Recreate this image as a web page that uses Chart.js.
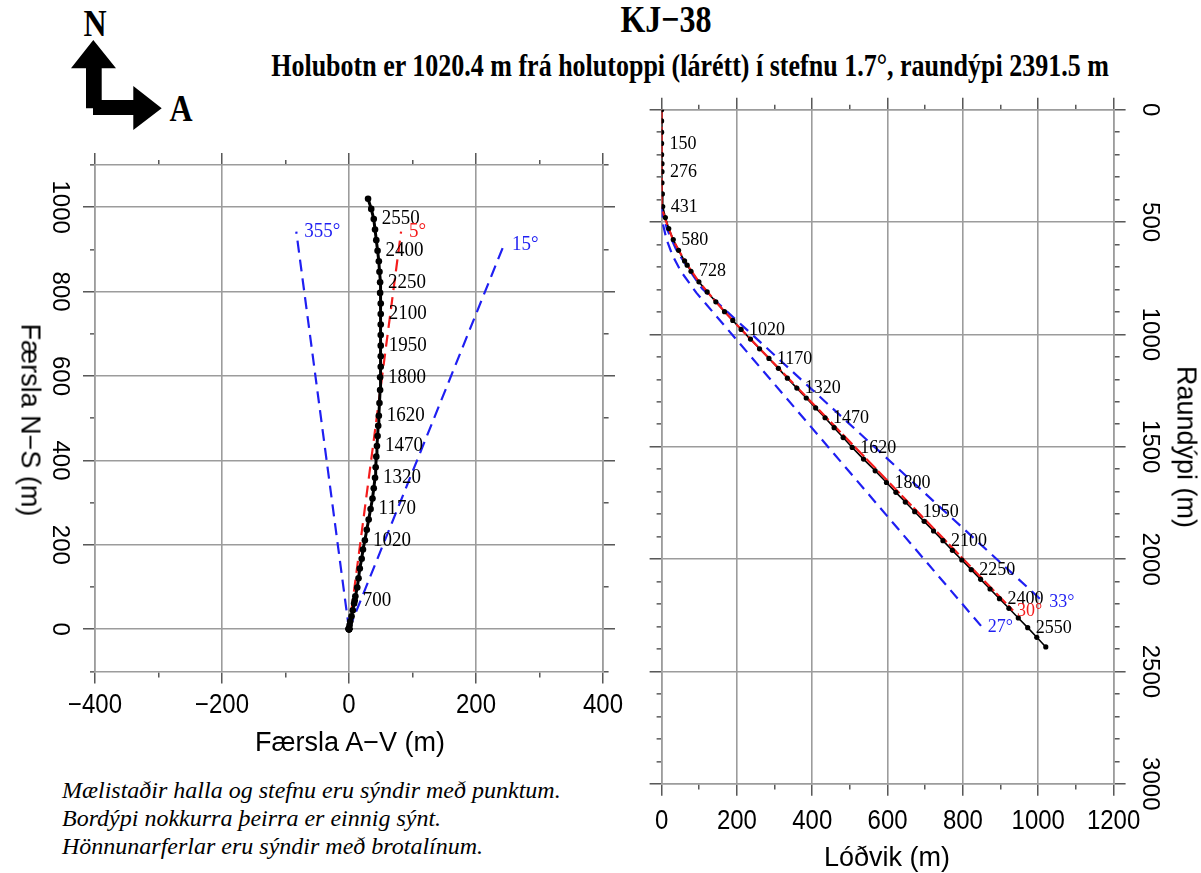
<!DOCTYPE html>
<html>
<head>
<meta charset="utf-8">
<script src="https://cdn.jsdelivr.net/npm/chart.js@4/dist/chart.umd.min.js"></script>
<style>
  html, body { margin: 0; padding: 0; background: #fff; }
  body { width: 1201px; height: 873px; position: relative; overflow: hidden; font-family: "Liberation Sans", Arial, sans-serif; color: #000; }
  .t { position: absolute; white-space: nowrap; line-height: 1; }
  .c { transform: translate(-50%, -50%); }
  .s { transform: translate(-50%, -50%) scaleY(1.18); }
  .r { transform: translate(-50%, -50%) rotate(90deg); }
  canvas { position: absolute; }
</style>
</head>
<body>
<svg style="position:absolute;left:0;top:0" width="200" height="140">
  <polygon fill="#000" points="93.3,40 116,68.3 101.7,68.3 101.7,100 133.3,100 133.3,86 161.7,108.3 133.3,130 133.3,115 93,115 93,108.3 86,108.3 86,68.3 71,68.3"/>
</svg>
<div class="t s" style="left:95px;top:24px;font:bold 32px 'Liberation Serif',serif">N</div>
<div class="t s" style="left:181px;top:109px;font:bold 32px 'Liberation Serif',serif">A</div>
<div class="t s" style="left:666px;top:20px;font:bold 32px 'Liberation Serif',serif">KJ−38</div>
<div class="t s" style="left:690px;top:67px;font:bold 26px 'Liberation Serif',serif">Holubotn er 1020.4 m frá holutoppi (lárétt) í stefnu 1.7°, raundýpi 2391.5 m</div>

<canvas id="plan" width="640" height="600" style="left:0;top:140px"></canvas>
<canvas id="section" width="581" height="813" style="left:620px;top:60px"></canvas>

<div class="t c" style="left:350px;top:742px;font-size:27px">Færsla A−V (m)</div>
<div class="t r" style="left:30px;top:420px;font-size:27px">Færsla N−S (m)</div>
<div class="t c" style="left:887px;top:857px;font-size:27px">Lóðvik (m)</div>
<div class="t r" style="left:1186px;top:447px;font-size:27px">Raundýpi (m)</div>

<div class="t" style="left:62px;top:776px;font:italic 24px/28px 'Liberation Serif',serif">Mælistaðir halla og stefnu eru sýndir með punktum.<br>Bordýpi nokkurra þeirra er einnig sýnt.<br>Hönnunarferlar eru sýndir með brotalínum.</div>

<script>
// ---------------- DATA ----------------
// Survey stations (measured depth, m)
const stationMD = [0,50,100,150,200,240,276,325,375,431,480,530,580,630,680,700,728,780,830,880,930,975,1020,1070,1120,1170,1220,1270,1320,1370,1420,1470,1520,1570,1620,1680,1740,1800,1850,1900,1950,2000,2050,2100,2150,2200,2250,2300,2350,2400,2450,2500,2550,2600,2650];
// Vertical section: true vertical depth (Raundýpi) and horizontal distance (Lóðvik)
const stationTVD = [0,50,100,150,200,240,276,325,375,431,480,529,578,626,673,692,719,766,811,855,899,938,978,1021,1064,1107,1151,1195,1239,1283,1327,1371,1415,1459,1503,1555,1607,1659,1703,1746,1789,1832,1875,1918,1961,2004,2047,2090,2133,2176,2219,2262,2305,2348,2391];
const stationDisp = [0,0,0,0,0,1,1,1,2,3,10,19,31,45,61,68,78,99,121,144,167,189,211,236,260,285,310,334,359,384,409,434,458,482,506,536,567,597,622,647,672,697,722,747,772,797,822,847,872,897,922,947,972,996,1020];
// Plan view: east (Færsla A-V) and north (Færsla N-S)
const stationEast = [0,0,0,0,0,0,0,0,0,0,1,2,4,6,8,9,10,13,15,17,20,22,25,28,31,34,37,39,41,42,43,44,45,46,47,48,49,49,50,50,50,50,50,50,50,49,49,48,47,45,43,41,39,35,30];
const stationNorth = [0,0,0,0,0,1,1,1,2,3,10,19,31,45,61,68,78,99,121,144,167,189,211,236,260,285,310,334,359,384,409,434,458,482,506,536,567,597,622,647,672,697,722,747,772,797,822,847,872,897,922,947,972,996,1020];

// Depth labels shown beside stations
const planLabelMD = [700,1020,1170,1320,1470,1620,1800,1950,2100,2250,2400,2550];
const sectionLabelMD = [150,276,431,580,728,1020,1170,1320,1470,1620,1800,1950,2100,2250,2400,2550];

// Plan-view design directions (from wellhead)
const planFanText = ['355°','5°','15°'];
const planFanEndEast = [-83, 82, 244];
const planFanEndNorth = [942, 942, 911];

// Vertical-section design curves
const designDisp = [0,0,8,30,61,99,144,189,236,933];
const designTVD  = [0,431,480,578,673,766,855,938,1021,2229];
const upperDisp = [0,14,38,70,108,1013];
const upperTVD  = [431,530,620,705,797,2190];
const lowerDisp = [0,3,13,29,51,92,850];
const lowerTVD  = [431,505,577,649,719,814,2301];
const designText = '30°', upperText = '33°', lowerText = '27°';

// Tick labels
const planXTicks = [-400,-200,0,200,400];
const planYTicks = [0,200,400,600,800,1000];
const sectionXTicks = [0,200,400,600,800,1000,1200];
const sectionYTicks = [0,500,1000,1500,2000,2500,3000];

// ---------------- STYLE / HELPERS ----------------
const GRID = '#9c9c9c', TICK = '#3c3c3c', BLUE = '#1f1ff2', RED = '#f41c1c';
const SANS_TICK = '24px "Liberation Sans", Arial, sans-serif';
const SERIF_PLAN = '19px "Liberation Serif", "Times New Roman", serif';
const SERIF_SEC = '18px "Liberation Serif", "Times New Roman", serif';

function fmt(v) { return v < 0 ? '\u2212' + Math.abs(v) : String(v); }
function pts(xs, ys) { return xs.map((v, i) => ({x: v, y: ys[i]})); }
function label(ctx, s, x, y, font, color, align, rot, sy) {
  ctx.save();
  ctx.font = font; ctx.fillStyle = color; ctx.textAlign = align; ctx.textBaseline = 'middle';
  ctx.translate(x, y);
  if (sy) ctx.scale(1, sy);
  if (rot) ctx.rotate(rot);
  ctx.fillText(s, 0, 0);
  ctx.restore();
}
function axis(pos, min, max, step, major, size, onArea, reverse) {
  const fromEdge = (pos === 'bottom' || pos === 'right');
  const isMajor = c => c.tick && (c.tick.value % major === 0);
  return {
    type: 'linear', position: pos, min: min, max: max, reverse: !!reverse,
    ticks: { display: false, stepSize: step },
    grid: {
      drawOnChartArea: onArea, drawTicks: true, tickLength: 12,
      color: c => isMajor(c) ? GRID : 'rgba(0,0,0,0)',
      lineWidth: 1.6, tickColor: TICK, tickWidth: 1.3,
      tickBorderDash: c => isMajor(c) ? [] : (fromEdge ? [5, 60] : [0, 7, 5, 60])
    },
    border: { display: true, color: GRID, width: 1.6 },
    afterFit: s => { if (s.isHorizontal()) s.height = size; else s.width = size; }
  };
}
const common = { responsive: false, animation: false, devicePixelRatio: 1, layout: { padding: 0 },
  plugins: { legend: { display: false }, tooltip: { enabled: false } } };

// ---------------- PLAN VIEW ----------------
const planText = {
  id: 'planText',
  afterDraw(chart) {
    const ctx = chart.ctx, x = chart.scales.x, y = chart.scales.y;
    planXTicks.forEach(v => label(ctx, fmt(v), x.getPixelForValue(v), 566, SANS_TICK, '#000', 'center', 0, 1.12));
    planYTicks.forEach(v => label(ctx, fmt(v), 60, y.getPixelForValue(v), SANS_TICK, '#000', 'center', Math.PI / 2));
    planLabelMD.forEach(md => {
      const i = stationMD.indexOf(md);
      label(ctx, String(md), x.getPixelForValue(stationEast[i]) + 8, y.getPixelForValue(stationNorth[i]), SERIF_PLAN, '#000', 'left', 0, 1.08);
    });
    planFanText.forEach((t, i) => label(ctx, t, x.getPixelForValue(planFanEndEast[i]) + 8,
      y.getPixelForValue(planFanEndNorth[i]), SERIF_PLAN, i === 1 ? RED : BLUE, 'left', 0, 1.08));
  }
};
const planDatasets = planFanText.map((t, i) => ({
  data: pts([0, planFanEndEast[i]], [0, planFanEndNorth[i]]),
  showLine: true, borderColor: i === 1 ? RED : BLUE, borderWidth: 2.2, borderDash: [12, 7],
  pointRadius: 0, order: 3
}));
planDatasets.push({
  data: pts(stationEast, stationNorth), showLine: true, borderColor: '#000', borderWidth: 3,
  pointRadius: 3.3, pointBackgroundColor: '#000', pointBorderWidth: 0, order: 1
});
new Chart(document.getElementById('plan'), {
  type: 'scatter',
  data: { datasets: planDatasets },
  options: Object.assign({}, common, {
    scales: {
      x: axis('bottom', -400, 400, 100, 200, 68.5, true),
      x2: axis('top', -400, 400, 100, 200, 25, false),
      y: axis('left', -100, 1100, 100, 200, 95, true),
      y2: axis('right', -100, 1100, 100, 200, 37, false)
    }
  }),
  plugins: [planText]
});

// ---------------- VERTICAL SECTION ----------------
const sectionText = {
  id: 'sectionText',
  afterDraw(chart) {
    const ctx = chart.ctx, x = chart.scales.x, y = chart.scales.y;
    sectionXTicks.forEach(v => label(ctx, fmt(v), x.getPixelForValue(v), 762, SANS_TICK, '#000', 'center', 0, 1.12));
    sectionYTicks.forEach(v => label(ctx, fmt(v), 530, y.getPixelForValue(v), SANS_TICK, '#000', 'center', Math.PI / 2));
    sectionLabelMD.forEach(md => {
      const i = stationMD.indexOf(md);
      label(ctx, String(md), x.getPixelForValue(stationDisp[i]) + 8, y.getPixelForValue(stationTVD[i]), SERIF_SEC, '#000', 'left', 0, 1.08);
    });
    const end = (xs, ys) => [x.getPixelForValue(xs[xs.length - 1]), y.getPixelForValue(ys[ys.length - 1])];
    let p = end(upperDisp, upperTVD); label(ctx, upperText, p[0] + 6, p[1], SERIF_SEC, BLUE, 'left', 0, 1.08);
    p = end(lowerDisp, lowerTVD); label(ctx, lowerText, p[0] + 6, p[1], SERIF_SEC, BLUE, 'left', 0, 1.08);
    p = end(designDisp, designTVD); label(ctx, designText, p[0] + 4, p[1], SERIF_SEC, RED, 'left', 0, 1.08);
  }
};
new Chart(document.getElementById('section'), {
  type: 'scatter',
  data: { datasets: [
    { data: pts(upperDisp, upperTVD), showLine: true, borderColor: BLUE, borderWidth: 2.2, borderDash: [11, 7], pointRadius: 0, order: 5 },
    { data: pts(lowerDisp, lowerTVD), showLine: true, borderColor: BLUE, borderWidth: 2.2, borderDash: [11, 7], pointRadius: 0, order: 5 },
    { data: pts(stationDisp, stationTVD), showLine: true, borderColor: '#000', borderWidth: 1.6, pointRadius: 0, order: 4 },
    { data: pts(designDisp, designTVD), showLine: true, borderColor: RED, borderWidth: 2.2, borderDash: [14, 3], pointRadius: 0, order: 3 },
    { data: pts(stationDisp, stationTVD), showLine: false, pointRadius: 2.6, pointBackgroundColor: '#000', pointBorderWidth: 0, order: 1 }
  ] },
  options: Object.assign({}, common, {
    scales: {
      x: axis('bottom', 0, 1200, 100, 200, 89.2, true),
      x2: axis('top', 0, 1200, 100, 200, 49.7, false),
      y: axis('left', 0, 3000, 100, 500, 41.6, true, true),
      y2: axis('right', 0, 3000, 100, 500, 87.4, false, true)
    }
  }),
  plugins: [sectionText]
});
</script>
</body>
</html>
